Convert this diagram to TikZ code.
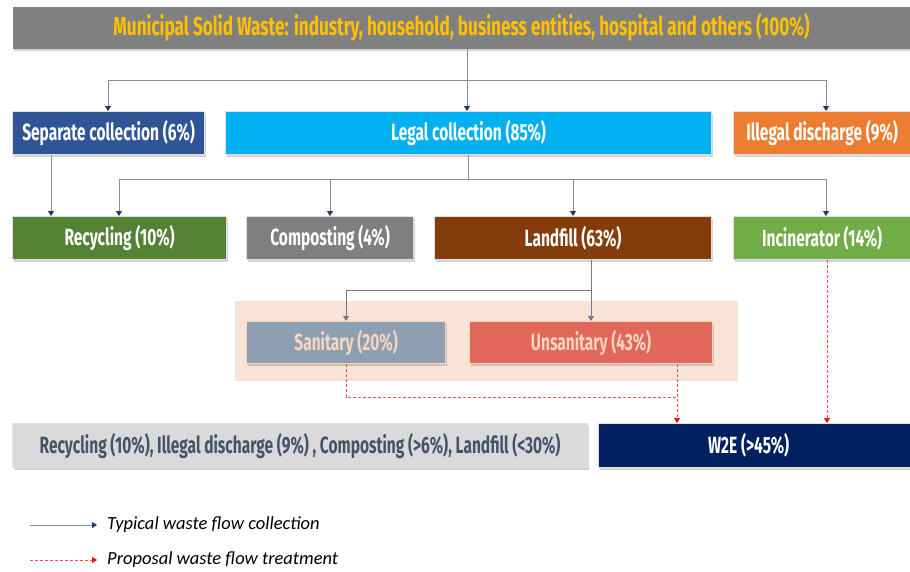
\documentclass[tikz,border=0pt]{standalone}
\usepackage{fontspec}
\setmainfont{Fira Sans}[FakeStretch=0.66]
\newfontfamily\legfont{Carlito}
\usetikzlibrary{arrows.meta,shadows,positioning}
\definecolor{cTop}{HTML}{808080}
\definecolor{cTopTxt}{HTML}{FFC000}
\definecolor{cSep}{HTML}{2F5597}
\definecolor{cLegal}{HTML}{00B0F0}
\definecolor{cIll}{HTML}{ED7D31}
\definecolor{cRec}{HTML}{548235}
\definecolor{cComp}{HTML}{7F7F7F}
\definecolor{cLand}{HTML}{843C0C}
\definecolor{cInc}{HTML}{70AD47}
\definecolor{cPeach}{HTML}{F9E3D5}
\definecolor{cSan}{HTML}{8F9FB2}
\definecolor{cUns}{HTML}{E0675A}
\definecolor{cPeachTxt}{HTML}{F8D5C0}
\definecolor{cGray}{HTML}{DADADA}
\definecolor{cGrayTxt}{HTML}{44546A}
\definecolor{cW2E}{HTML}{002060}
\definecolor{cArr}{HTML}{1F3864}
\definecolor{cLine}{HTML}{8090A8}
\definecolor{cSubArr}{HTML}{767689}
\tikzset{
  box/.style={draw=white!88!black, line width=1.2pt, text=white, font=\bfseries\fontsize{23.5}{26}\selectfont,
    inner sep=0pt, drop shadow={opacity=0.35, shadow xshift=1.5pt, shadow yshift=-2.5pt}},
  flow/.style={draw=cLine, line width=0.8pt, -{Triangle[length=5pt,width=6pt,color=cArr]}},
  flowline/.style={draw=cLine, line width=0.8pt},
  subflow/.style={draw=cSubArr, line width=0.8pt, -{Triangle[length=5pt,width=6pt,color=cSubArr]}},
  subline/.style={draw=cSubArr, line width=0.8pt},
  prop/.style={draw=red!70!white, line width=0.6pt, densely dashed, -{Triangle[length=5pt,width=6pt,color=red]}},
  propline/.style={draw=red!70!white, line width=0.6pt, densely dashed},
}
\begin{document}
\begin{tikzpicture}[x=1pt,y=-1pt]
\useasboundingbox (0,0) rectangle (910,571);
% peach background
\fill[cPeach] (235,301) rectangle (738,381);
% boxes
\node[box, fill=cTop, draw=none, text=cTopTxt, font=\bfseries\fontsize{26}{29}\selectfont, minimum width=910pt, minimum height=42pt, anchor=north west] (msw) at (12,6) {\hspace*{-12pt}Municipal Solid Waste: industry, household, business entities, hospital and others (100\%)};
\node[box, fill=cSep, minimum width=192pt, minimum height=43pt, anchor=north west] (sep) at (12,111) {Separate collection (6\%)};
\node[box, fill=cLegal, minimum width=486pt, minimum height=43pt, anchor=north west] (legal) at (225,111) {Legal collection (85\%)};
\node[box, fill=cIll, minimum width=190pt, minimum height=43pt, anchor=north west] (ill) at (733,111) {\hspace*{-13pt}Illegal discharge (9\%)};
\node[box, fill=cRec, minimum width=214pt, minimum height=43pt, anchor=north west] (rec) at (12,216) {Recycling (10\%)};
\node[box, fill=cComp, minimum width=167pt, minimum height=43pt, anchor=north west] (comp) at (246,216) {Composting (4\%)};
\node[box, fill=cLand, minimum width=277pt, minimum height=43pt, anchor=north west] (land) at (434,216) {Landfill (63\%)};
\node[box, fill=cInc, minimum width=190pt, minimum height=43pt, anchor=north west] (inc) at (733,216) {\hspace*{-13pt}Incinerator (14\%)};
\node[box, fill=cSan, draw=cPeachTxt, text=cPeachTxt, minimum width=199pt, minimum height=42pt, anchor=north west] (san) at (246,321) {Sanitary (20\%)};
\node[box, fill=cUns, draw=cPeachTxt, text=cPeachTxt, minimum width=243pt, minimum height=42pt, anchor=north west] (uns) at (469,321) {Unsanitary (43\%)};
\node[box, fill=cGray, text=cGrayTxt, minimum width=575pt, minimum height=44pt, anchor=north west] (rest) at (12,423) {Recycling (10\%), Illegal discharge (9\%) , Composting (>6\%), Landfill (<30\%)};
\node[box, fill=cW2E, minimum width=324pt, minimum height=44pt, anchor=north west] (w2e) at (598,423) {\hspace*{-24pt}W2E (>45\%)};
% coordinates
\coordinate (j1) at (467,80);
\coordinate (j2) at (468,179);
\coordinate (j3) at (591,290);
\coordinate (j4) at (677,397);
% top level
\draw[flowline] (msw.south -| j1) -- (j1);
\draw[flow] (j1) -| (sep.north -| 108,0);
\draw[flow] (j1) -- (legal.north -| j1);
\draw[flow] (j1) -| (ill.north -| 826,0);
% second level
\draw[flowline] (legal.south -| j2) -- (j2);
\draw[flow] (j2) -| (rec.north -| 119,0);
\draw[flow] (j2) -| (comp.north -| 330,0);
\draw[flow] (j2) -| (land.north -| 573,0);
\draw[flow] (j2) -| (inc.north -| 826,0);
\draw[flow] (sep.south -| 51,0) -- (rec.north -| 51,0);
% landfill split
\draw[subline] (land.south -| j3) -- (j3);
\draw[subflow] (j3) -| (san.north -| 346,0);
\draw[subflow] (j3) -- (uns.north -| j3);
% proposal
\draw[propline] (san.south -| 346,0) |- (j4);
\draw[prop] (uns.south -| j4) -- (w2e.north -| j4);
\draw[prop] (inc.south -| 827,0) -- (w2e.north -| 827,0);
% legend
\coordinate (l1a) at (30,525);
\coordinate (l1b) at (97,525);
\coordinate (l2a) at (30,560);
\coordinate (l2b) at (97,560);
\draw[flow] (l1a) -- (l1b);
\draw[prop] (l2a) -- (l2b);
\node[anchor=west, font=\legfont\itshape\fontsize{18.5}{21}\selectfont, inner sep=0pt] (leg1) at (107,525) {Typical waste flow collection};
\node[anchor=west, font=\legfont\itshape\fontsize{18.5}{21}\selectfont, inner sep=0pt] (leg2) at (107,560) {Proposal waste flow treatment};
\end{tikzpicture}
\end{document}
